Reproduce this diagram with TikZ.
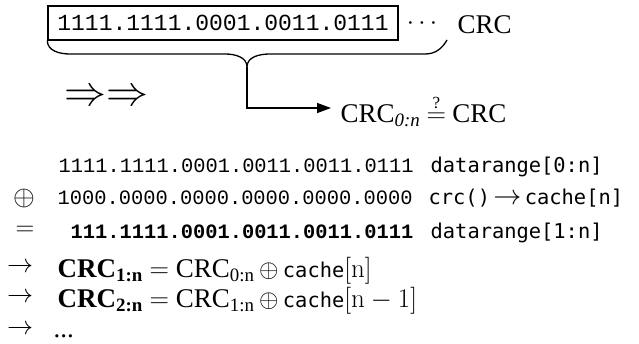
\RequirePackage{fix-cm}
\documentclass[tikz,border=0pt]{standalone}
\usepackage[no-math]{fontspec}
\setmainfont{Liberation Serif}
\newfontfamily\bitsfont{Liberation Mono}
\newfontfamily\codefont{DejaVu Sans Mono}
\usetikzlibrary{arrows.meta}

\newcommand{\codestr}[1]{{\codefont\fontsize{20.4}{24}\selectfont #1}}

\tikzset{
    line/.style={inner sep=0pt, anchor=base west, font=\fontsize{27}{32}\selectfont},
    bits/.style={inner sep=0pt, anchor=base west, font=\bitsfont\fontsize{20.4}{24}\selectfont},
    code/.style={inner sep=0pt, anchor=base west, font=\codefont\fontsize{20.4}{24}\selectfont},
    sym/.style={inner sep=0pt, font=\fontsize{26}{30}\selectfont},
}

\begin{document}
\begin{tikzpicture}[x=1pt, y=1pt, line width=1.3pt]
    \useasboundingbox (0,0) rectangle (639,-343);

    % data word with its brace
    \node [draw, minimum width=350, minimum height=34, inner sep=0pt] (word) at (223,-23) {\fontsize{23}{26}\bitsfont 1111.1111.0001.0011.0111};
    \node [sym] (more) at (422,-24) {$\cdots$};
    \node [line] (crc) at (457,-33) {CRC};

    \coordinate (cusp) at (247,-67);
    \draw (word.south west) to[out=-90, in=180] (70,-54) -- (225,-54) to[out=0, in=90] (cusp)
        to[out=90, in=180] (270,-54) -- (425,-54) to[out=0, in=-120] (447,-40);

    \node [inner sep=0pt, font=\fontsize{42}{42}\selectfont] (impl) at (106,-98) {$\Rightarrow\Rightarrow$};

    \node [line] (check) at (340,-122) {CRC\textsubscript{\textit{0:n}}};
    \node [line] (same) at ([xshift=5pt]check.base east) {$=$};
    \node [inner sep=0pt, anchor=south, font=\fontsize{17}{17}\selectfont] (query) at ([yshift=2pt]same.north) {?};
    \node [line] (crcb) at ([xshift=5pt]same.base east) {CRC};
    \coordinate (tip) at (331,-108);
    \draw [-{Triangle[length=14pt, width=10pt]}] (cusp) |- (tip);

    % rolling computation
    \node [bits] (row1) at (58,-172) {1111.1111.0001.0011.0011.0111};
    \node [code] (range1) at (430,-172) {datarange[0:n]};

    \node [sym, font=\fontsize{28}{30}\selectfont] (xor) at (24,-198) {$\oplus$};
    \node [bits] (row2) at (57,-204) {1000.0000.0000.0000.0000.0000};
    \node [code] (call) at (428,-204) {crc()\,{\fontsize{28}{28}\selectfont$\to$}\,cache[n]};

    \node [sym] (eq) at (25,-231) {$=$};
    \node [bits, font=\bitsfont\bfseries\fontsize{20.4}{24}\selectfont] (row3) at (70,-238) {111.1111.0001.0011.0011.0111};
    \node [code] (range2) at (430,-238) {datarange[1:n]};

    \node [sym] (to1) at (20,-268) {$\to$};
    \node [line] (row4) at (57,-277) {\textbf{CRC\textsubscript{1:n}} $=$ CRC\textsubscript{0:n}\,{\fontsize{25}{28}\selectfont$\oplus$}\,\codestr{cache}$[\mathrm{n}]$};

    \node [sym] (to2) at (20,-298) {$\to$};
    \node [line] (row5) at (57,-307) {\textbf{CRC\textsubscript{2:n}} $=$ CRC\textsubscript{1:n}\,{\fontsize{25}{28}\selectfont$\oplus$}\,\codestr{cache}$[\mathrm{n}-1]$};

    \node [sym] (to3) at (20,-330) {$\to$};
    \node [line] (row6) at (53,-337) {...};
\end{tikzpicture}
\end{document}
